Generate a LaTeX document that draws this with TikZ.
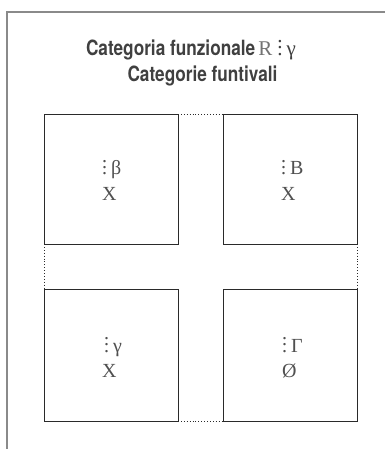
\documentclass[tikz,border=0pt]{standalone}
\usepackage{fontspec}
\setmainfont{Liberation Serif}
\newfontfamily\ttlfont{TeX Gyre Heros}[FakeStretch=0.82]
\definecolor{framec}{HTML}{8A8A8A}
\definecolor{boxc}{HTML}{2A2A2A}
\definecolor{ttlc}{HTML}{404040}
\definecolor{txtc}{HTML}{505050}
\newcommand\vdts{\vbox{\baselineskip6.5pt\lineskiplimit-20pt\hbox{.}\hbox{.}\hbox{.}}}
\begin{document}
\begin{tikzpicture}[x=1pt,y=-1pt,
  frame/.style={draw=framec,line width=1.5pt},
  box/.style={draw=boxc,line width=0.9pt,inner sep=0pt,outer sep=0pt,minimum width=134pt},
  link/.style={draw=boxc,line width=0.9pt,dotted},
  lbl/.style={inner sep=0pt,outer sep=0pt,anchor=base west,text=txtc,font=\fontsize{20}{20}\selectfont},
  ttl/.style={inner sep=0pt,outer sep=0pt,text=ttlc,font=\fontsize{21}{21}\selectfont}]
\useasboundingbox (0,0) rectangle (385,449);
% frame
\coordinate (f1) at (7,449);
\coordinate (f2) at (7,12);
\coordinate (f3) at (385,12);
\draw[frame] (f1) -- (f2) -- (f3);
% title
\node[ttl,anchor=base west] (t1) at (86,55.5) {{\ttlfont\bfseries Categoria funzionale}\hspace{3pt}{\color{txtc!80}R}\hspace{5pt}\vdts\hspace{4pt}γ};
\node[ttl,anchor=base] (t2) at (202.5,81.5) {\ttlfont\bfseries Categorie funtivali};
% boxes
\node[box,minimum height=130pt] (tl) at (111,179) {};
\node[box,minimum height=130pt] (tr) at (290,179) {};
\node[box,minimum height=132pt] (bl) at (111,355) {};
\node[box,minimum height=132pt] (br) at (290,355) {};
% dotted links
\draw[link] (tl.north east) -- (tr.north west);
\draw[link] (bl.south east) -- (br.south west);
\draw[link] (tl.south west) -- (bl.north west);
\draw[link] (tr.south east) -- (br.north east);
% labels
\node[lbl] (tlA) at (102,175) {\vdts\hspace{4pt}β};
\node[lbl] (tlB) at (102,200) {X};
\node[lbl] (trA) at (281,175) {\vdts\hspace{4pt}B};
\node[lbl] (trB) at (281,200) {X};
\node[lbl] (blA) at (104,352) {\vdts\hspace{4pt}γ};
\node[lbl] (blB) at (102,377) {X};
\node[lbl] (brA) at (282,352) {\vdts\hspace{4pt}Γ};
\node[lbl] (brB) at (282,377) {Ø};
\end{tikzpicture}
\end{document}
